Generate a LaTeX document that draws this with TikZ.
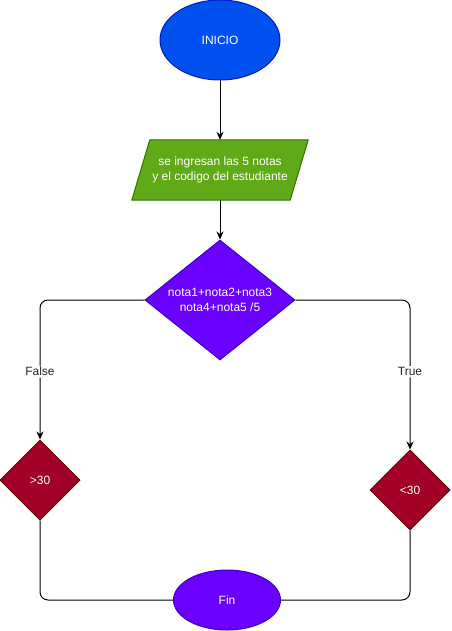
\documentclass[tikz,border=0pt]{standalone}
\usepackage{fontspec}
\setmainfont{Liberation Sans}
\usetikzlibrary{shapes.geometric,arrows.meta}
\definecolor{startfill}{HTML}{0050EF}
\definecolor{startline}{HTML}{001DBC}
\definecolor{iofill}{HTML}{60A917}
\definecolor{ioline}{HTML}{2D7600}
\definecolor{violetfill}{HTML}{6A00FF}
\definecolor{violetline}{HTML}{3700CC}
\definecolor{redfill}{HTML}{A20025}
\definecolor{redline}{HTML}{6F0000}
\tikzset{
  every node/.style={font=\fontsize{12}{14.4}\selectfont},
  terminal/.style={ellipse, draw, line width=1pt, text=white, inner sep=0pt},
  decision/.style={diamond, draw, line width=1pt, inner sep=0pt},
  conn/.style={line width=1pt, black},
  flow/.style={conn, -{Stealth[length=8pt,width=7pt]}},
  edgelabel/.style={fill=white, text=black!85, inner sep=1.5pt}
}
\begin{document}
\begin{tikzpicture}[x=1pt,y=-1pt]
\useasboundingbox[fill=white] (0,0) rectangle (451,631);

% start
\node[terminal, fill=startfill, draw=startline, minimum width=120pt, minimum height=80pt] (inicio) at (220,40) {INICIO};

% input parallelogram
\node[minimum width=176pt, minimum height=60pt, inner sep=0pt] (entrada) at (220,170) {};
\fill[iofill, draw=ioline, line width=1pt]
  (entrada.south west) -- ([xshift=18pt]entrada.north west)
  -- (entrada.north east) -- ([xshift=-18pt]entrada.south east) -- cycle;
\node[text=white, align=center, font=\fontsize{12}{15}\selectfont] (entradatxt) at (entrada.center) {se ingresan las 5 notas\\ y el codigo del estudiante};

% average decision
\node[decision, fill=violetfill, draw=violetline, minimum width=150pt, minimum height=120pt,
  label={[text=white, align=center, font=\fontsize{12}{15}\selectfont]center:nota1+nota2+nota3\\nota4+nota5 /5}] (prom) at (220,300) {};

% branch checks
\node[decision, fill=redfill, draw=redline, minimum width=80pt, minimum height=80pt, text=white] (mayor) at (40,480) {>30};
\node[decision, fill=redfill, draw=redline, minimum width=80pt, minimum height=80pt, text=white] (menor) at (410,490) {<30};

% end
\node[terminal, fill=violetfill, draw=violetline, minimum width=107pt, minimum height=60pt] (fin) at (227,600) {Fin};

% connectors
\draw[flow] (inicio.south) -- (entrada.north);
\draw[flow] (entrada.south) -- (prom.north);
\draw[flow, rounded corners=8pt] (prom.west) -| node[pos=0.757, edgelabel] {False} (mayor.north);
\draw[flow, rounded corners=8pt] (prom.east) -| node[pos=0.74, edgelabel] {True} (menor.north);
\draw[conn, rounded corners=8pt] (mayor.south) |- (fin.west);
\draw[conn, rounded corners=8pt] (menor.south) |- (fin.east);
\end{tikzpicture}
\end{document}
